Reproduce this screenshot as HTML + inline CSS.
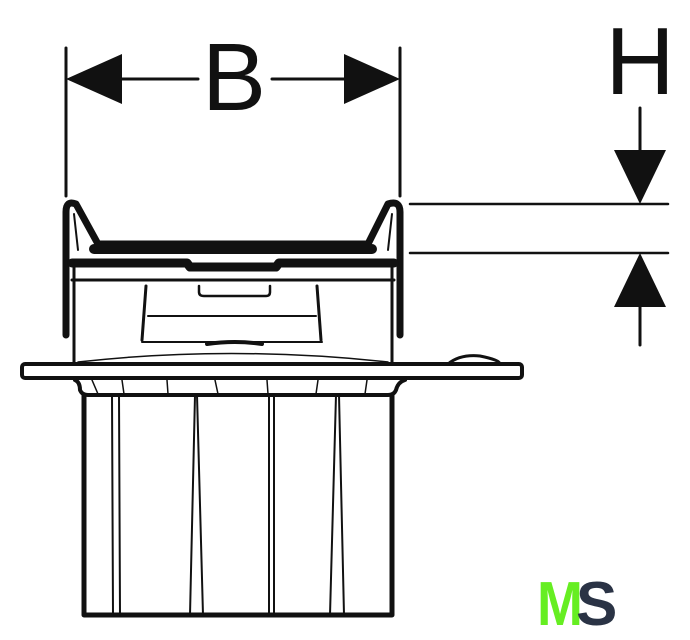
<!DOCTYPE html>
<html><head><style>body{margin:0;background:#fff}svg{display:block}</style></head><body>
<svg width="690" height="640" viewBox="0 0 690 640" xmlns="http://www.w3.org/2000/svg">
<g stroke="#111" fill="none" stroke-linecap="round" stroke-linejoin="round">
<line x1="66" y1="48" x2="66" y2="196" stroke-width="3"/>
<line x1="400" y1="48" x2="400" y2="196" stroke-width="3"/>
<line x1="120" y1="79" x2="198" y2="79" stroke-width="3"/>
<line x1="272" y1="79" x2="346" y2="79" stroke-width="3"/>
<line x1="410" y1="204" x2="668" y2="204" stroke-width="2.5"/>
<line x1="410" y1="253" x2="668" y2="253" stroke-width="2.5"/>
<line x1="640" y1="108" x2="640" y2="152" stroke-width="3"/>
<line x1="640" y1="305" x2="640" y2="345" stroke-width="3"/>
<path d="M66 335 V212 Q66 200 76 204 L98 244 H368 L388 204 Q400 200 400 212 V335" stroke-width="7"/>
<line x1="74" y1="214" x2="78" y2="250" stroke-width="2"/>
<line x1="392" y1="214" x2="388" y2="250" stroke-width="2"/>
<line x1="94" y1="249" x2="372" y2="249" stroke-width="10"/>
<path d="M72 263 H187 L190 267 H276 L279 263 H394" stroke-width="9"/>
<line x1="72" y1="280" x2="394" y2="280" stroke-width="3"/>
<line x1="74" y1="262" x2="74" y2="362" stroke-width="3"/>
<line x1="392" y1="262" x2="392" y2="362" stroke-width="3"/>
<path d="M146 286 L142 340 M317 286 L321 340" stroke-width="3"/>
<line x1="148" y1="316" x2="316" y2="316" stroke-width="2"/>
<line x1="142" y1="342" x2="322" y2="342" stroke-width="2"/>
<path d="M199 286 V292 Q199 296 204 296 H266 Q270 296 270 292 V286" stroke-width="2.5"/>
<path d="M207 344 Q235 340 262 344" stroke-width="4"/>
<path d="M78 362 Q230 345 388 362" stroke-width="1.5"/>
<rect x="22" y="364" width="500" height="14" rx="3" stroke-width="4"/>
<path d="M448 364 Q460 354 480 356 Q500 360 500 364" stroke-width="3"/>
<path d="M75 380 Q80 382 80 390 Q82 395 88 395 H388 Q394 395 396 390 Q398 382 405 380" stroke-width="4"/>
<path d="M84 395 V615 H392 V395" stroke-width="5"/>
<path d="M112 395 L113 615 M119 395 L120 615 M195 395 L190 615 M197 395 L203 615 M269 395 L269 615 M274 395 L274 615 M336 395 L330 615 M339 395 L344 615" stroke-width="2"/>
<path d="M92 380 L98 394 M122 380 L124 394 M167 380 L168 394 M215 380 L218 394 M267 380 L268 394 M318 380 L316 394 M367 380 L365 394" stroke-width="1.5"/>
</g>
<g fill="#111">
<polygon points="66,79 122,54 122,104"/>
<polygon points="400,79 344,54 344,104"/>
<polygon points="640,204 614,150 666,150"/>
<polygon points="640,253 614,307 666,307"/>
</g>
<text x="234" y="110" font-family="Liberation Sans, sans-serif" font-size="96" text-anchor="middle" fill="#111">B</text>
<text x="640" y="94" font-family="Liberation Sans, sans-serif" font-size="96" text-anchor="middle" fill="#111">H</text>
<text x="537" y="625" font-family="Liberation Sans, sans-serif" font-size="62" font-weight="bold" fill="#66ee22" textLength="46" lengthAdjust="spacingAndGlyphs">M</text>
<text x="576" y="625" font-family="Liberation Sans, sans-serif" font-size="62" font-weight="bold" fill="#2a3345">S</text>
</svg>
</body></html>
